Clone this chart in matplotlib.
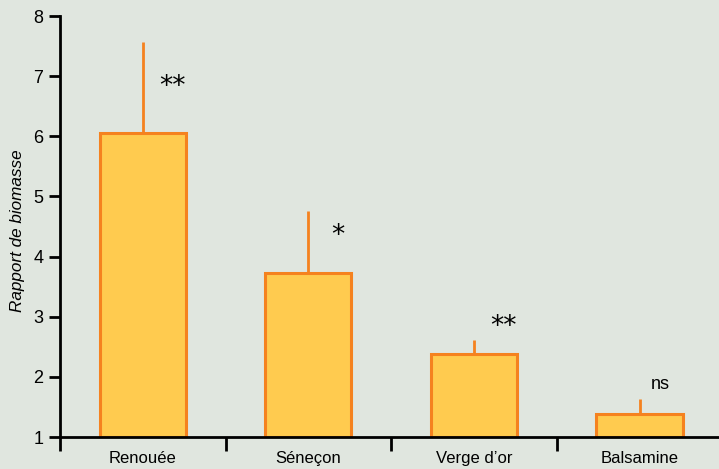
import numpy as np
import matplotlib.pyplot as plt

# ------------ data ------------
species = ["Renouée", "Séneçon", "Verge d\u2019or", "Balsamine"]
ratio = [6.05, 3.73, 2.38, 1.38]
err_up = [1.52, 1.03, 0.23, 0.25]
signif = ["**", "*", "**", "ns"]
sig_y = [6.9, 4.42, 2.91, 1.88]
# ------------------------------

BG = "#e0e6df"
FILL = "#ffcb4f"
EDGE = "#f5821f"

plt.rcParams["font.family"] = ["Liberation Sans", "DejaVu Sans"]

fig = plt.figure(figsize=(7.19, 4.69), dpi=100, facecolor=BG)
ax = fig.add_axes([60 / 719, 32 / 469, 659 / 719, 421 / 469], facecolor=BG)

x = np.arange(len(species))
base = 1.0
heights = [r - base for r in ratio]
ax.bar(x, heights, bottom=base, width=0.52, color=FILL, edgecolor=EDGE,
       linewidth=2.2, zorder=2)
# upper error bars only, no caps
for xi, r, e in zip(x, ratio, err_up):
    ax.plot([xi, xi], [r, r + e], color=EDGE, lw=2, zorder=1, solid_capstyle="butt")

for xi, s, sy in zip(x, signif, sig_y):
    if s == "ns":
        ax.text(xi + 0.125, sy, s, ha="center", va="center", fontsize=13)
    else:
        ax.text(xi + 0.18, sy - 0.08, s, ha="center", va="center", fontsize=19,
                family="DejaVu Sans")

ax.set_ylim(1, 8)
ax.set_xlim(-0.5, 3.48)
ax.set_yticks(range(1, 9))
ax.set_xticks(x)
ax.set_xticklabels([])
ax.set_xticks(np.arange(len(species)) - 0.5, minor=True)
ax.tick_params(axis="x", which="major", length=0)
ax.tick_params(axis="x", which="minor", length=10, width=2, direction="out")
ax.tick_params(axis="y", length=8, width=2, direction="out", labelsize=13, pad=4)

# category names on a common baseline
for xi, name in zip(x, species):
    ax.text(xi, -26 / 421 * 7 + 1, name, ha="center", va="baseline", fontsize=12,
            clip_on=False)

for side in ["top", "right"]:
    ax.spines[side].set_visible(False)
for side in ["left", "bottom"]:
    ax.spines[side].set_linewidth(2)
    ax.spines[side].set_zorder(3)

fig.text(18 / 719, 1 - 231 / 469, "Rapport de biomasse", rotation=90, ha="center",
         va="center", fontsize=12.3, style="italic")

fig.savefig("out.png", dpi=100, facecolor=BG)
